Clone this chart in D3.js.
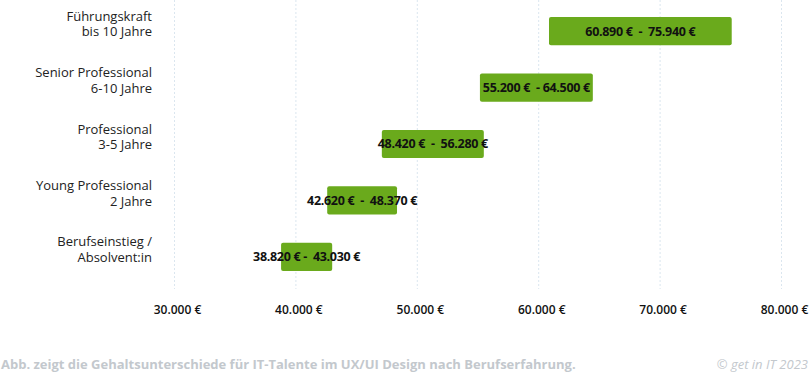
<!DOCTYPE html>
<html>
<head>
<meta charset="utf-8">
<script src="https://cdn.jsdelivr.net/npm/d3@7"></script>
<style>
  body { margin: 0; background: #fff; }
  text { font-family: "Open Sans", sans-serif; }
</style>
</head>
<body>
<svg id="vis" width="809" height="374"></svg>
<script>
// categories, two lines each
var categories = [
    ["Führungskraft", "bis 10 Jahre"],
    ["Senior Professional", "6-10 Jahre"],
    ["Professional", "3-5 Jahre"],
    ["Young Professional", "2 Jahre"],
    ["Berufseinstieg /", "Absolvent:in"]
];
// bar ends as drawn in the picture (the Professional bar sits a bit left of its label)
var lowValues = [60890, 55200, 47120, 42620, 38820];
var highValues = [75940, 64500, 55520, 48370, 43030];
var barLabels = [
    "60.890 €  -  75.940 €",
    "55.200 €  - 64.500 €",
    "48.420 €  -  56.280 €",
    "42.620 €  -  48.370 €",
    "38.820 € -  43.030 €"
];
var tickValues = [30000, 40000, 50000, 60000, 70000, 80000];
var tickLabels = ["30.000 €", "40.000 €", "50.000 €", "60.000 €", "70.000 €", "80.000 €"];

var caption = "Abb. zeigt die Gehaltsunterschiede für IT-Talente im UX/UI Design nach Berufserfahrung.";
var credit = "© get in IT 2023";

var MARGINS = {top: 3, left: 174, right: 28, bottom: 89};
var width = 809, height = 374;

var display = d3.select("#vis");

var xScale = d3.scaleLinear()
    .domain([30000, 80000])
    .range([MARGINS.left, width - MARGINS.right]);

var yScale = d3.scaleBand()
    .domain(d3.range(categories.length))
    .range([MARGINS.top, height - MARGINS.bottom])
    .paddingInner(0.5)
    .paddingOuter(0.25);

// dotted grid lines
display.append("g")
    .selectAll("line")
    .data(tickValues)
    .join("line")
    .attr("x1", d => xScale(d) + 0.5)
    .attr("x2", d => xScale(d) + 0.5)
    .attr("y1", 0)
    .attr("y2", 289)
    .attr("stroke", "#dbe6ef")
    .attr("stroke-width", 1)
    .attr("stroke-dasharray", "2,2");

// x axis labels
var xAxis = d3.axisBottom(xScale)
    .tickValues(tickValues)
    .tickFormat((d, i) => tickLabels[i])
    .tickSize(0)
    .tickPadding(0);

display.append("g")
    .attr("transform", "translate(3, 305)")
    .call(xAxis)
    .call(g => g.select(".domain").remove())
    .call(g => g.selectAll("text")
        .attr("dy", "0.71em")
        .style("font-family", "'Open Sans', sans-serif")
        .style("font-size", "12px")
        .style("font-weight", "600")
        .attr("fill", "#111"));

// category labels, second line level with the bar centre
var cat = display.append("g")
    .selectAll("text")
    .data(categories)
    .join("text")
    .attr("x", 152)
    .attr("y", (d, i) => yScale(i) + yScale.bandwidth() / 2)
    .attr("text-anchor", "end")
    .style("font-size", "13px")
    .attr("fill", "#222");

cat.append("tspan")
    .attr("x", 152)
    .attr("dy", "-0.8em")
    .text(d => d[0]);
cat.append("tspan")
    .attr("x", 152)
    .attr("dy", "1.2em")
    .text(d => d[1]);

// range bars
display.append("g")
    .selectAll("rect")
    .data(categories)
    .join("rect")
    .attr("x", (d, i) => xScale(lowValues[i]))
    .attr("y", (d, i) => yScale(i))
    .attr("width", (d, i) => xScale(highValues[i]) - xScale(lowValues[i]))
    .attr("height", yScale.bandwidth())
    .attr("rx", 2)
    .attr("fill", "#6aaa1c");

// bar value labels
display.append("g")
    .selectAll("text")
    .data(categories)
    .join("text")
    .attr("x", (d, i) => (xScale(lowValues[i]) + xScale(highValues[i])) / 2)
    .attr("y", (d, i) => yScale(i) + yScale.bandwidth() / 2)
    .attr("dy", "0.35em")
    .attr("text-anchor", "middle")
    .style("white-space", "pre")
    .style("font-size", "12.5px")
    .style("font-weight", "700")
    .style("letter-spacing", "-0.3px")
    .attr("fill", "#111")
    .text((d, i) => barLabels[i]);

// footer
display.append("text")
    .attr("x", 1)
    .attr("y", 369)
    .style("font-size", "13px")
    .style("font-weight", "700")
    .attr("fill", "#c3c8cd")
    .text(caption);

display.append("text")
    .attr("x", 808)
    .attr("y", 369)
    .attr("text-anchor", "end")
    .style("font-size", "13px")
    .style("font-style", "italic")
    .attr("fill", "#c3c8cd")
    .text(credit);
</script>
</body>
</html>
